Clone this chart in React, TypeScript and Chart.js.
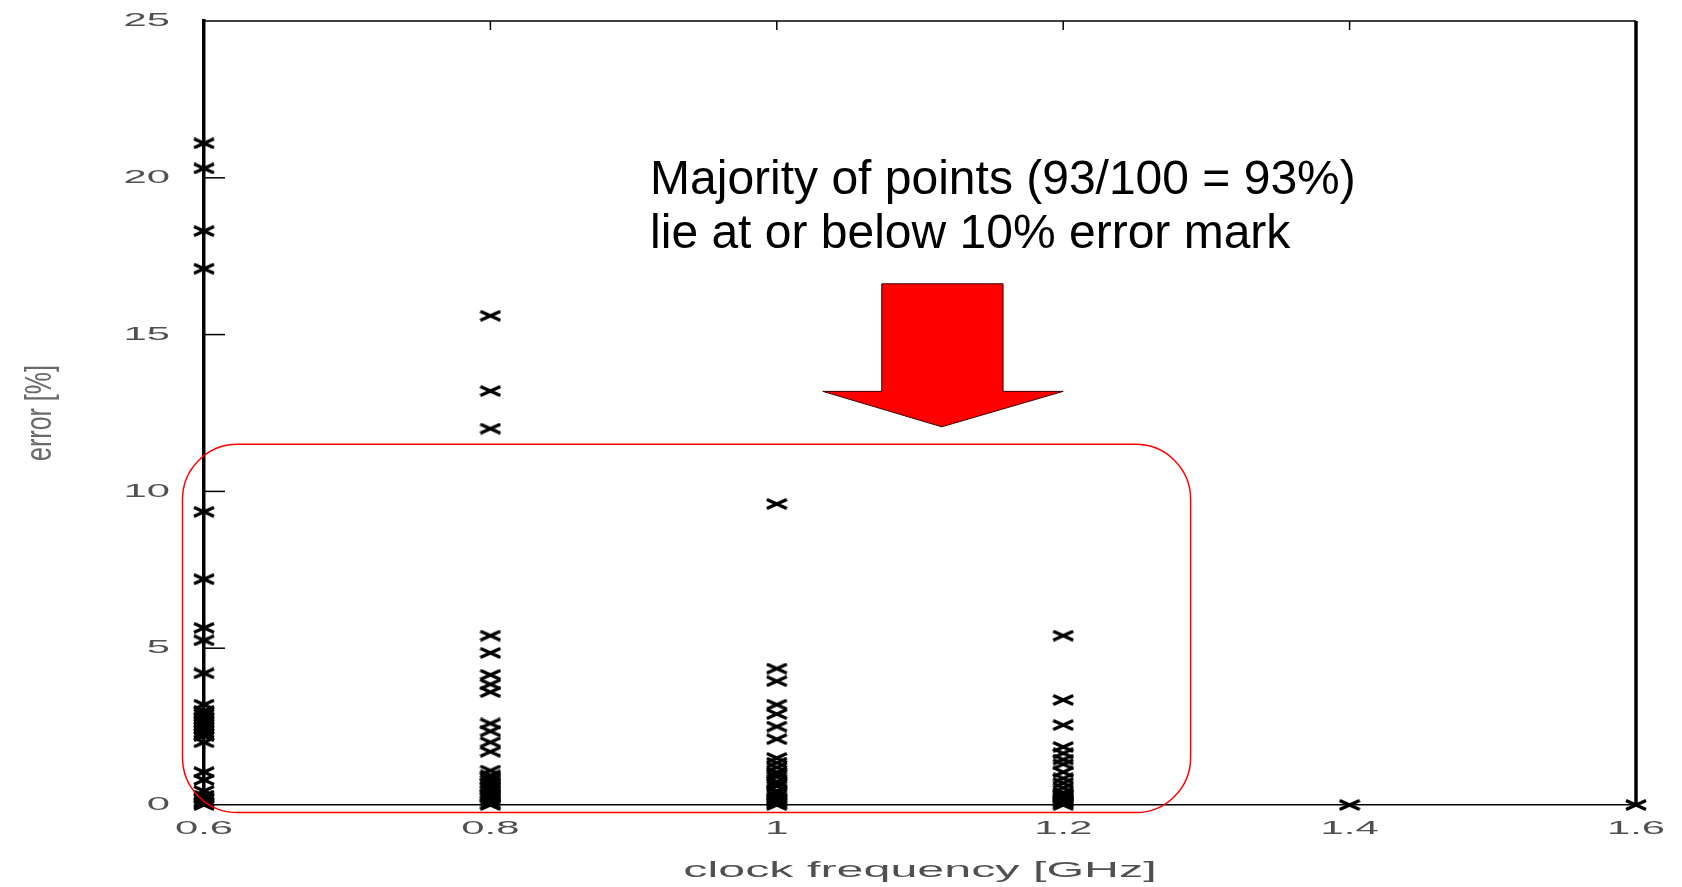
import { useEffect, useRef } from 'react';
import { Chart, registerables } from 'chart.js';

Chart.register(...registerables);

// ---- data ----
const frequencies = [0.6, 0.8, 1.0, 1.2, 1.4, 1.6];
const err06 = [21.1, 20.3, 18.3, 17.1, 9.35, 7.2, 5.65, 5.25, 4.2, 3.2, 3.0, 2.9, 2.8, 2.7, 2.6, 2.5, 2.4, 2.3, 2.2, 2.0, 1.05, 0.8, 0.45, 0.3, 0.2, 0.1, 0.05, 0.0];
const err08 = [15.6, 13.2, 12.0, 5.4, 4.85, 4.15, 3.85, 3.6, 2.6, 2.35, 2.0, 1.7, 1.1, 0.95, 0.9, 0.8, 0.7, 0.6, 0.55, 0.45, 0.35, 0.3, 0.25, 0.15, 0.05, 0.0];
const err10 = [9.6, 4.35, 3.95, 3.2, 2.9, 2.5, 2.1, 1.5, 1.35, 1.2, 1.05, 1.0, 0.9, 0.75, 0.7, 0.6, 0.45, 0.4, 0.3, 0.2, 0.15, 0.1, 0.05, 0.0];
const err12 = [5.4, 3.35, 2.55, 1.85, 1.65, 1.45, 1.3, 1.05, 0.85, 0.7, 0.55, 0.4, 0.35, 0.3, 0.25, 0.2, 0.15, 0.1, 0.05, 0.0];
const err14 = [0.0];
const err16 = [0.0];
const errors = [err06, err08, err10, err12, err14, err16];

const xTicks = [0.6, 0.8, 1.0, 1.2, 1.4, 1.6];
const xTickLabels = ['0.6', '0.8', '1', '1.2', '1.4', '1.6'];
const yTicks = [0, 5, 10, 15, 20, 25];
const yTickLabels = ['0', '5', '10', '15', '20', '25'];

const xTitle = 'clock frequency [GHz]';
const yTitle = 'error [%]';
const noteLines = ['Majority of points (93/100 = 93%)', 'lie at or below 10% error mark'];

// annotation anchors in data coordinates
const noteAnchor = { x: 0.9115, y1: 19.47, y2: 17.75 };
const arrowShape = { left: 1.0733, right: 1.158, headLeft: 1.0321, headRight: 1.2, tipX: 1.1152, top: 16.62, shoulder: 13.19, tip: 12.06 };
const boxShape = { left: 0.585, right: 1.289, top: 11.5, bottom: -0.24 };

const STRETCH = 2.2;
const AXIS_GRAY = '#505050';

function makeCross(): HTMLCanvasElement {
  const c = document.createElement('canvas');
  c.width = 22;
  c.height = 12;
  const g = c.getContext('2d')!;
  g.strokeStyle = '#000';
  g.lineWidth = 3.3;
  g.beginPath();
  g.moveTo(1, 1.5);
  g.lineTo(21, 10.5);
  g.moveTo(1, 10.5);
  g.lineTo(21, 1.5);
  g.stroke();
  return c;
}

const framePlugin = {
  id: 'frame',
  beforeDatasetsDraw(chart: any) {
    const { ctx, chartArea: a, scales } = chart;
    ctx.save();
    ctx.strokeStyle = '#000';
    // top border
    ctx.lineWidth = 1.5;
    ctx.beginPath();
    ctx.moveTo(a.left, a.top);
    ctx.lineTo(a.right, a.top);
    ctx.stroke();
    // right axis (thick)
    ctx.lineWidth = 3.5;
    ctx.beginPath();
    ctx.moveTo(a.right, a.top);
    ctx.lineTo(a.right, a.bottom);
    ctx.stroke();
    // inward ticks
    ctx.lineWidth = 1.5;
    yTicks.forEach((v) => {
      if (v === 0 || v === 25) return;
      const py = scales.y.getPixelForValue(v);
      ctx.beginPath();
      ctx.moveTo(a.left, py);
      ctx.lineTo(a.left + 21, py);
      ctx.stroke();
    });
    xTicks.forEach((v, i) => {
      if (i === 0 || i === xTicks.length - 1) return;
      const px = scales.x.getPixelForValue(v);
      ctx.beginPath();
      ctx.moveTo(px, a.top);
      ctx.lineTo(px, a.top + 9);
      ctx.stroke();
    });
    ctx.restore();
  },
  afterDatasetsDraw(chart: any) {
    const { ctx, scales } = chart;
    const X = (v: number) => scales.x.getPixelForValue(v);
    const Y = (v: number) => scales.y.getPixelForValue(v);
    ctx.save();
    // rounded box
    const l = X(boxShape.left), r = X(boxShape.right), t = Y(boxShape.top), b = Y(boxShape.bottom);
    ctx.strokeStyle = '#ff0000';
    ctx.lineWidth = 1.5;
    ctx.beginPath();
    ctx.roundRect(l, t, r - l, b - t, 55);
    ctx.stroke();
    // arrow
    ctx.fillStyle = '#ff0000';
    ctx.strokeStyle = '#3a0000';
    ctx.lineWidth = 1;
    ctx.beginPath();
    ctx.moveTo(X(arrowShape.left), Y(arrowShape.top));
    ctx.lineTo(X(arrowShape.right), Y(arrowShape.top));
    ctx.lineTo(X(arrowShape.right), Y(arrowShape.shoulder));
    ctx.lineTo(X(arrowShape.headRight), Y(arrowShape.shoulder));
    ctx.lineTo(X(arrowShape.tipX), Y(arrowShape.tip));
    ctx.lineTo(X(arrowShape.headLeft), Y(arrowShape.shoulder));
    ctx.lineTo(X(arrowShape.left), Y(arrowShape.shoulder));
    ctx.closePath();
    ctx.fill();
    ctx.stroke();
    // note text
    ctx.fillStyle = '#000';
    ctx.font = '48px "Liberation Sans", Arial, sans-serif';
    ctx.textAlign = 'left';
    ctx.textBaseline = 'alphabetic';
    ctx.fillText(noteLines[0], X(noteAnchor.x), Y(noteAnchor.y1));
    ctx.fillText(noteLines[1], X(noteAnchor.x), Y(noteAnchor.y2));
    ctx.restore();
  },
  afterDraw(chart: any) {
    const { ctx, chartArea: a, scales } = chart;
    ctx.save();
    ctx.fillStyle = AXIS_GRAY;
    ctx.font = '19px "Liberation Sans", Arial, sans-serif';
    // y tick labels
    ctx.textAlign = 'right';
    ctx.textBaseline = 'middle';
    yTicks.forEach((v, i) => {
      const py = scales.y.getPixelForValue(v);
      ctx.save();
      ctx.translate(a.left - 34, py);
      ctx.scale(STRETCH, 1);
      ctx.fillText(yTickLabels[i], 0, 0);
      ctx.restore();
    });
    // x tick labels
    ctx.textAlign = 'center';
    xTicks.forEach((v, i) => {
      const px = scales.x.getPixelForValue(v);
      ctx.save();
      ctx.translate(px, a.bottom + 24);
      ctx.scale(STRETCH, 1);
      ctx.fillText(xTickLabels[i], 0, 0);
      ctx.restore();
    });
    // x title
    ctx.font = '22px "Liberation Sans", Arial, sans-serif';
    ctx.save();
    ctx.translate((a.left + a.right) / 2, a.bottom + 66);
    ctx.scale(STRETCH, 1);
    ctx.fillText(xTitle, 0, 0);
    ctx.restore();
    // y title
    ctx.fillStyle = '#6a6a6a';
    ctx.font = '25px "Liberation Sans", Arial, sans-serif';
    ctx.save();
    ctx.translate(41, (a.top + a.bottom) / 2);
    ctx.scale(1.5, 1);
    ctx.rotate(-Math.PI / 2);
    ctx.fillText(yTitle, 0, 0);
    ctx.restore();
    ctx.restore();
  },
};

export default function App() {
  const canvasRef = useRef<HTMLCanvasElement | null>(null);

  useEffect(() => {
    if (!canvasRef.current) return;
    const cross = makeCross();
    const points = frequencies.flatMap((f, i) => errors[i].map((e) => ({ x: f, y: e })));
    const chart = new Chart(canvasRef.current, {
      type: 'scatter',
      data: {
        datasets: [
          {
            label: 'error',
            data: points,
            pointStyle: cross as any,
            pointRadius: 5,
            borderColor: '#000',
            backgroundColor: '#000',
            clip: false as any,
          },
        ],
      },
      options: {
        animation: false,
        responsive: true,
        maintainAspectRatio: false,
        layout: { padding: { top: 21, right: 46, left: 0, bottom: 0 } },
        plugins: { legend: { display: false }, tooltip: { enabled: false } },
        scales: {
          x: {
            type: 'linear',
            min: 0.6,
            max: 1.6,
            afterBuildTicks: (s: any) => {
              s.ticks = xTicks.map((v) => ({ value: v }));
            },
            afterFit: (s: any) => {
              s.height = 82;
            },
            grid: { display: false },
            border: { display: true, color: '#000', width: 1.5 },
            ticks: { display: false },
          },
          y: {
            type: 'linear',
            min: 0,
            max: 25,
            afterBuildTicks: (s: any) => {
              s.ticks = yTicks.map((v) => ({ value: v }));
            },
            afterFit: (s: any) => {
              s.width = 204;
            },
            grid: { display: false },
            border: { display: true, color: '#000', width: 3.5 },
            ticks: { display: false },
          },
        },
      },
      plugins: [framePlugin],
    });
    return () => chart.destroy();
  }, []);

  return (
    <div style={{ position: 'absolute', left: 0, top: 0, width: 1682, height: 887, background: '#fff' }}>
      <canvas ref={canvasRef} style={{ display: 'block' }} />
    </div>
  );
}
